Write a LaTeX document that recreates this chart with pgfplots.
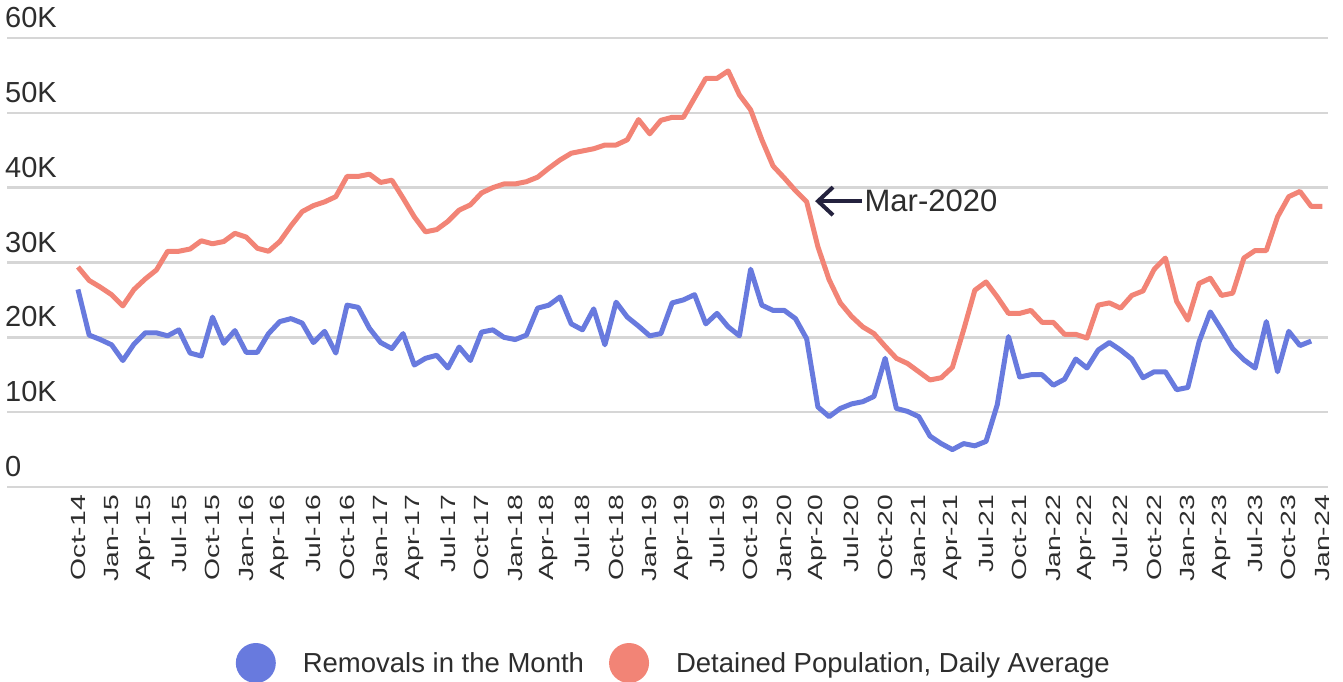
\documentclass[border=0pt]{standalone}
\usepackage{pgfplots}
\pgfplotsset{compat=1.18}
\usepackage{fontspec}
\setmainfont{Liberation Sans}
\usetikzlibrary{arrows.meta}
\definecolor{remblue}{RGB}{104,122,222}
\definecolor{detred}{RGB}{242,132,118}
\definecolor{gridgray}{RGB}{214,214,214}
\definecolor{txt}{RGB}{45,45,45}
\definecolor{arrownavy}{RGB}{36,34,62}
\newcommand\xl[1]{\scalebox{1.38}[1]{#1}}

\pgfplotstableread{
i v
0 26.4
1 20.3
2 19.7
3 19.0
4 16.9
5 19.1
6 20.6
7 20.6
8 20.2
9 21.0
10 17.9
11 17.5
12 22.7
13 19.2
14 20.9
15 18.0
16 18.0
17 20.5
18 22.1
19 22.5
20 21.9
21 19.3
22 20.8
23 17.9
24 24.3
25 24.0
26 21.2
27 19.3
28 18.5
29 20.5
30 16.3
31 17.2
32 17.6
33 15.9
34 18.7
35 16.9
36 20.7
37 21.0
38 20.0
39 19.7
40 20.3
41 23.9
42 24.3
43 25.4
44 21.8
45 21.0
46 23.8
47 19.0
48 24.7
49 22.7
50 21.5
51 20.2
52 20.5
53 24.6
54 25.0
55 25.7
56 21.8
57 23.2
58 21.4
59 20.2
60 29.1
61 24.3
62 23.6
63 23.6
64 22.5
65 19.8
66 10.7
67 9.4
68 10.5
69 11.1
70 11.4
71 12.1
72 17.2
73 10.5
74 10.1
75 9.4
76 6.8
77 5.8
78 5.0
79 5.8
80 5.5
81 6.1
82 11.0
83 20.1
84 14.7
85 15.0
86 15.0
87 13.6
88 14.4
89 17.1
90 15.9
91 18.3
92 19.3
93 18.3
94 17.1
95 14.6
96 15.4
97 15.4
98 13.0
99 13.3
100 19.4
101 23.4
102 21.0
103 18.5
104 17.0
105 15.9
106 22.1
107 15.4
108 20.8
109 18.9
110 19.5
}\removals

\pgfplotstableread{
i v
0 29.4
1 27.6
2 26.7
3 25.7
4 24.2
5 26.4
6 27.8
7 29.0
8 31.5
9 31.5
10 31.8
11 32.9
12 32.5
13 32.8
14 33.9
15 33.4
16 31.9
17 31.5
18 32.8
19 34.9
20 36.8
21 37.6
22 38.1
23 38.8
24 41.5
25 41.5
26 41.8
27 40.7
28 41.0
29 38.6
30 36.1
31 34.1
32 34.4
33 35.5
34 37.0
35 37.7
36 39.3
37 40.0
38 40.5
39 40.5
40 40.8
41 41.4
42 42.6
43 43.7
44 44.6
45 44.9
46 45.2
47 45.7
48 45.7
49 46.4
50 49.1
51 47.2
52 49.0
53 49.4
54 49.4
55 52.0
56 54.6
57 54.6
58 55.6
59 52.4
60 50.4
61 46.4
62 42.9
63 41.3
64 39.6
65 38.1
66 32.1
67 27.7
68 24.6
69 22.8
70 21.4
71 20.5
72 18.8
73 17.2
74 16.5
75 15.4
76 14.3
77 14.6
78 16.0
79 21.0
80 26.3
81 27.4
82 25.4
83 23.2
84 23.2
85 23.6
86 22.0
87 22.0
88 20.4
89 20.4
90 19.9
91 24.3
92 24.6
93 23.9
94 25.6
95 26.2
96 29.1
97 30.6
98 24.8
99 22.3
100 27.2
101 27.9
102 25.6
103 25.9
104 30.6
105 31.6
106 31.6
107 36.1
108 38.8
109 39.5
110 37.5
111 37.5
}\detained

\begin{document}
\begin{tikzpicture}[x=1pt,y=1pt]
\path[use as bounding box] (0,0) rectangle (1343,682);
\begin{axis}[
  at={(7pt,195pt)}, anchor=south west,
  scale only axis, width=1321pt, height=449pt,
  xmin=-6.33, xmax=111.5, ymin=0, ymax=60,
  axis line style={draw=none},
  major tick length=0pt,
  ytick={0,10,20,30,40,50,60},
  yticklabels={0,10K,20K,30K,40K,50K,60K},
  ymajorgrids,
  grid style={gridgray, line width=2.5pt},
  yticklabel style={anchor=south west, inner sep=0pt, xshift=-2pt, yshift=10pt,
    font=\fontsize{29}{32}\selectfont, text=txt},
  xtick={0,3,...,111},
  xticklabels={\xl{Oct-14},\xl{Jan-15},\xl{Apr-15},\xl{Jul-15},\xl{Oct-15},\xl{Jan-16},\xl{Apr-16},\xl{Jul-16},\xl{Oct-16},\xl{Jan-17},\xl{Apr-17},\xl{Jul-17},\xl{Oct-17},\xl{Jan-18},\xl{Apr-18},\xl{Jul-18},\xl{Oct-18},\xl{Jan-19},\xl{Apr-19},\xl{Jul-19},\xl{Oct-19},\xl{Jan-20},\xl{Apr-20},\xl{Jul-20},\xl{Oct-20},\xl{Jan-21},\xl{Apr-21},\xl{Jul-21},\xl{Oct-21},\xl{Jan-22},\xl{Apr-22},\xl{Jul-22},\xl{Oct-22},\xl{Jan-23},\xl{Apr-23},\xl{Jul-23},\xl{Oct-23},\xl{Jan-24}},
  xticklabel style={yshift=-8pt, rotate=90, anchor=east, inner sep=0pt,
    font=\fontsize{20.5}{24}\selectfont, text=txt},
  legend style={at={(0.504,-0.392)}, anchor=center, draw=none, fill=none,
    legend columns=2, font=\fontsize{27.5}{30}\selectfont, text=txt,
    nodes={inner sep=0pt},
    /tikz/every even column/.append style={column sep=25pt}},
  legend cell align=left,
  legend image code/.code={\fill[#1, draw=none] (20pt,0pt) circle (20pt);
    \path[draw=none, fill=none] (0pt,0pt) -- (67pt,0pt);},
  clip=false,
]
\addplot[remblue, line width=5pt, line join=round] table[x=i, y=v] {\removals};
\addlegendentry{Removals in the Month}
\addplot[detred, line width=5pt, line join=round] table[x=i, y=v] {\detained};
\addlegendentry{Detained Population, Daily Average}
\draw[arrownavy, line width=4pt, -{Straight Barb[length=15pt, width=28pt]}]
  (axis cs:69.9,38.2) -- (axis cs:65.75,38.2);
\node[anchor=west, inner sep=0pt, font=\fontsize{31}{34}\selectfont, text=txt]
  at (axis cs:70.15,38.2) {Mar-2020};
\end{axis}
\end{tikzpicture}
\end{document}
